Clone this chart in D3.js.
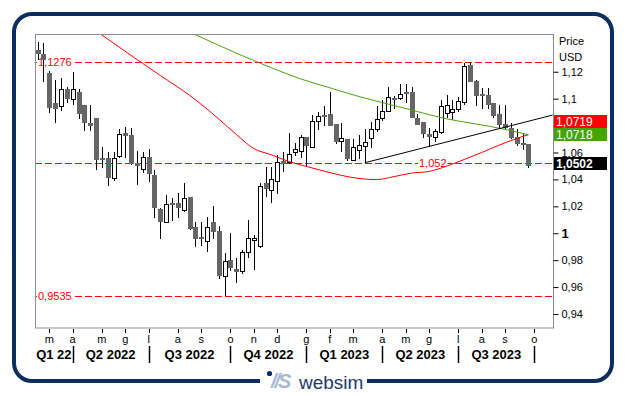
<!DOCTYPE html>
<html>
<head>
<meta charset="utf-8">
<script src="https://cdn.jsdelivr.net/npm/d3@7"></script>
<style>
  body { margin: 0; background: #fff; }
  svg text { font-family: "Liberation Sans", Arial, sans-serif; }
</style>
</head>
<body>
<div class="chart"></div>
<script>
// weekly candles, each one dated on the friday that closes the week
var firstWeek = "2022-02-18";
var opens  = [1.1362,1.1329,1.1193,1.0965,1.0948,1.1072,1.0995,1.1052,1.0953,1.0822,1.0859,1.0560,1.0557,1.0408,1.0577,1.0745,1.0730,1.0525,1.0475,1.0564,1.0433,1.0180,1.0086,1.0225,1.0222,1.0173,1.0267,1.0044,0.9975,0.9945,1.0081,1.0017,0.9685,0.9799,0.9735,0.9722,0.9863,0.9950,0.9908,1.0371,1.0322,1.0388,1.0537,1.0532,1.0601,1.0614,1.0713,1.0643,1.0837,1.0879,1.0886,1.0809,1.0685,1.0700,1.0544,1.0619,1.0651,1.0705,1.0772,1.0854,1.0911,1.1004,1.1002,1.1047,1.1047,1.0859,1.0824,1.0738,1.0718,1.0750,1.0891,1.0904,1.0924,1.0978,1.1250,1.1131,1.1035,1.1027,1.0965,1.0884,1.0809,1.0785,1.0718,1.0673,1.0663];
var highs  = [1.1423,1.1411,1.1205,1.1139,1.1156,1.1089,1.1196,1.1072,1.0955,1.0953,1.0860,1.0643,1.0606,1.0606,1.0775,1.0792,1.0780,1.0611,1.0606,1.0626,1.0470,1.0185,1.0284,1.0260,1.0297,1.0371,1.0272,1.0086,1.0081,1.0123,1.0203,1.0054,0.9851,0.9999,0.9814,0.9876,1.0099,0.9990,1.0371,1.0490,1.0490,1.0581,1.0601,1.0742,1.0671,1.0730,1.0716,1.0878,1.0898,1.0946,1.1047,1.0810,1.0817,1.0702,1.0700,1.0730,1.0775,1.0829,1.0946,1.0990,1.1089,1.1020,1.1106,1.1106,1.1089,1.0886,1.0826,1.0780,1.0775,1.0990,1.1027,1.0990,1.1015,1.1262,1.1276,1.1139,1.1077,1.1077,1.0967,1.0953,1.0953,1.0817,1.0775,1.0735,1.0665];
var lows   = [1.1287,1.1126,1.0896,1.0817,1.0908,1.0970,1.0953,1.0846,1.0762,1.0762,1.0470,1.0487,1.0354,1.0391,1.0557,1.0557,1.0507,1.0359,1.0445,1.0378,1.0116,0.9957,1.0081,1.0094,1.0111,1.0161,1.0024,0.9900,0.9908,0.9863,0.9955,0.9660,0.9535,0.9722,0.9628,0.9697,0.9814,0.9730,0.9888,1.0272,1.0222,1.0289,1.0458,1.0512,1.0577,1.0557,1.0490,1.0640,1.0767,1.0797,1.0799,1.0663,1.0606,1.0537,1.0537,1.0552,1.0522,1.0631,1.0755,1.0834,1.0911,1.0921,1.0990,1.0965,1.0854,1.0804,1.0710,1.0643,1.0676,1.0738,1.0854,1.0842,1.0899,1.0953,1.1121,1.0948,1.0923,1.0923,1.0859,1.0780,1.0775,1.0700,1.0651,1.0619,1.0487];
var closes = [1.1332,1.1287,1.0933,1.0923,1.1072,1.0995,1.1072,1.0884,1.0817,1.0799,1.0544,1.0554,1.0413,1.0562,1.0738,1.0725,1.0515,1.0502,1.0564,1.0438,1.0185,1.0086,1.0215,1.0218,1.0185,1.0260,1.0032,0.9957,0.9955,1.0044,1.0012,0.9685,0.9796,0.9740,0.9715,0.9858,0.9962,0.9962,1.0354,1.0329,1.0401,1.0532,1.0517,1.0589,1.0626,1.0713,1.0651,1.0837,1.0871,1.0867,1.0799,1.0676,1.0705,1.0552,1.0638,1.0656,1.0676,1.0775,1.0846,1.0908,1.1010,1.0998,1.1032,1.1032,1.0859,1.0804,1.0735,1.0713,1.0760,1.0946,1.0953,1.0924,1.0983,1.1245,1.1126,1.1022,1.1022,1.0953,1.0874,1.0804,1.0785,1.0710,1.0661,1.0661,1.0502];

// moving averages
var redMaDates  = ["2022-04-29","2022-05-06","2022-06-17","2022-07-15","2022-08-19","2022-09-23","2022-10-14","2022-11-04","2022-11-25","2022-12-16","2023-01-06","2023-01-27","2023-02-17","2023-03-10","2023-03-31","2023-04-21","2023-05-12","2023-06-02","2023-06-23","2023-07-14","2023-08-04","2023-08-25","2023-09-15","2023-09-29"];
var redMaValues = [1.1503,1.1473,1.1291,1.1172,1.1025,1.0849,1.0734,1.0629,1.0583,1.0533,1.0496,1.0462,1.0430,1.0407,1.0399,1.0421,1.0447,1.0459,1.0499,1.0548,1.0600,1.0655,1.0704,1.0733];
var greenMaDates  = ["2022-08-19","2022-09-16","2022-10-21","2022-11-25","2022-12-30","2023-02-03","2023-03-10","2023-04-14","2023-05-19","2023-06-23","2023-07-28","2023-09-01","2023-09-29"];
var greenMaValues = [1.1495,1.1416,1.1320,1.1230,1.1147,1.1081,1.1016,1.0960,1.0904,1.0850,1.0812,1.0772,1.0731];

var trendDates  = ["2023-03-17","2023-10-28"];
var trendValues = [1.0524,1.0878];

var levels      = [1.1276, 1.052, 0.9535];
var levelLabels = ["1,1276", "1,052", "0,9535"];

var lastRed = 1.0719, lastGreen = 1.0718, lastPrice = 1.0502;

// 1,08 sits under the value boxes, so only its tick is kept
var yTicks = [0.94,0.96,0.98,1,1.02,1.04,1.06,1.08,1.1,1.12];
var yHiddenLabels = [1.08];

var monthTickDates = ["2022-03-04","2022-04-01","2022-05-06","2022-06-03","2022-07-01","2022-08-05","2022-09-02","2022-10-07","2022-11-04","2022-12-02","2023-01-06","2023-02-03","2023-03-03","2023-04-07","2023-05-05","2023-06-02","2023-07-07","2023-08-04","2023-09-01","2023-10-06"];
var monthLabels = ["m","a","m","g","l","a","s","o","n","d","g","f","m","a","m","g","l","a","s","o"];
var quarterEnds   = ["2022-04-01","2022-07-01","2022-10-07","2023-01-06","2023-04-07","2023-07-07","2023-10-06"];
var quarterLabels = ["Q1 22","Q2 2022","Q3 2022","Q4 2022","Q1 2023","Q2 2023","Q3 2023"];

var pLeft = 35, pRight = 553, pTop = 35, pBottom = 328;
var navy = "#0c2d5e";

var parse = d3.timeParse("%Y-%m-%d");
var start = parse(firstWeek);
var candles = opens.map(function(o, i) {
  return { date: d3.timeDay.offset(start, 7 * i), open: o, high: highs[i], low: lows[i], close: closes[i] };
});

var x = d3.scaleTime()
  .domain([parse(monthTickDates[0]), parse(monthTickDates[monthTickDates.length - 1])])
  .range([49.3, 534.3]);
var y = d3.scaleLinear().domain([0.9296, 1.1473]).range([pBottom, pTop]);

var locale = d3.formatLocale({ decimal: ",", thousands: ".", grouping: [3], currency: ["", "€"] });
var fmt = locale.format("~g");

var svg = d3.select(".chart").append("svg")
  .attr("width", 627)
  .attr("height", 395);

svg.append("rect").attr("width", 627).attr("height", 395).attr("fill", "#fff");

// outer rounded frame, open at the bottom for the logo
var r = 18, fl = 14, ft = 14, fr = 612, fb = 381;
var frame = d3.path();
frame.moveTo(260, fb);
frame.lineTo(fl + r, fb);
frame.arcTo(fl, fb, fl, fb - r, r);
frame.lineTo(fl, ft + r);
frame.arcTo(fl, ft, fl + r, ft, r);
frame.lineTo(fr - r, ft);
frame.arcTo(fr, ft, fr, ft + r, r);
frame.lineTo(fr, fb - r);
frame.arcTo(fr, fb, fr - r, fb, r);
frame.lineTo(367, fb);
svg.append("path").attr("d", frame.toString())
  .attr("fill", "none").attr("stroke", navy).attr("stroke-width", 4);

svg.append("defs").append("clipPath").attr("id", "plotclip")
  .append("rect").attr("x", pLeft).attr("y", pTop).attr("width", pRight - pLeft).attr("height", pBottom - pTop);

var plot = svg.append("g").attr("clip-path", "url(#plotclip)");

// horizontal levels
plot.selectAll(".level").data(levels).enter().append("line")
  .attr("x1", pLeft).attr("x2", pRight)
  .attr("y1", function(d) { return Math.round(y(d)) + 0.5; })
  .attr("y2", function(d) { return Math.round(y(d)) + 0.5; })
  .attr("stroke", "#ff0000").attr("stroke-dasharray", "7,3");

var labelX = [38, 419, 38];
levels.forEach(function(v, i) {
  var t = plot.append("text")
    .attr("x", labelX[i]).attr("y", Math.round(y(v)) + 4)
    .attr("font-size", 11).attr("fill", "#ff0000")
    .text(levelLabels[i]);
  var bb = t.node().getBBox();
  plot.insert("rect", function() { return t.node(); })
    .attr("x", bb.x - 1).attr("y", bb.y).attr("width", bb.width + 2).attr("height", bb.height)
    .attr("fill", "#fff");
});

// candles
plot.selectAll(".wick").data(candles).enter().append("line")
  .attr("x1", function(d) { return Math.round(x(d.date)) + 0.5; })
  .attr("x2", function(d) { return Math.round(x(d.date)) + 0.5; })
  .attr("y1", function(d) { return Math.round(y(d.high)); })
  .attr("y2", function(d) { return Math.round(y(d.low)); })
  .attr("stroke", "#000");

plot.selectAll(".body").data(candles).enter().append("rect")
  .attr("x", function(d) {
    var cx = Math.round(x(d.date));
    return d.close >= d.open ? cx - 1.5 : cx - 2;
  })
  .attr("y", function(d) {
    var t = Math.round(y(Math.max(d.open, d.close)));
    return d.close >= d.open ? t + 0.5 : t;
  })
  .attr("width", function(d) { return d.close >= d.open ? 4 : 5; })
  .attr("height", function(d) {
    var h = Math.round(y(Math.min(d.open, d.close))) - Math.round(y(Math.max(d.open, d.close)));
    return Math.max(h, d.close >= d.open ? 1 : 2);
  })
  .attr("fill", function(d) { return d.close >= d.open ? "#fff" : "#666"; })
  .attr("stroke", function(d) { return d.close >= d.open ? "#000" : "none"; });

// moving averages and trend line
var line = d3.line()
  .x(function(d) { return x(d.date); })
  .y(function(d) { return y(d.v); })
  .curve(d3.curveMonotoneX);

function series(dates, values) {
  return dates.map(function(d, i) { return { date: parse(d), v: values[i] }; });
}

plot.append("path").attr("d", line(series(redMaDates, redMaValues)))
  .attr("fill", "none").attr("stroke", "#ff0000").attr("stroke-width", 1);
plot.append("path").attr("d", line(series(greenMaDates, greenMaValues)))
  .attr("fill", "none").attr("stroke", "#4ca20c").attr("stroke-width", 1);
plot.append("path").attr("d", d3.line()
    .x(function(d) { return x(d.date); })
    .y(function(d) { return y(d.v); })(series(trendDates, trendValues)))
  .attr("fill", "none").attr("stroke", "#000").attr("stroke-width", 1);

// plot border
svg.append("rect")
  .attr("x", pLeft + 0.5).attr("y", pTop - 0.5)
  .attr("width", pRight - pLeft).attr("height", pBottom - pTop + 0.5)
  .attr("fill", "none").attr("stroke", "#8c8c9a");

// right price axis
var yAxis = d3.axisRight(y).tickValues(yTicks).tickSize(5).tickPadding(3)
  .tickFormat(function(d) { return yHiddenLabels.indexOf(d) >= 0 ? "" : fmt(d); });
var ya = svg.append("g").attr("transform", "translate(" + (pRight + 0.5) + ",0)").call(yAxis);
ya.select(".domain").remove();
ya.selectAll("line").attr("stroke", "#000");
ya.selectAll("text")
  .attr("font-size", function(d) { return d === 1 ? 13 : 11; })
  .attr("font-weight", function(d) { return d === 1 ? "bold" : "normal"; })
  .attr("fill", "#000")
  .style("font-family", "'Liberation Sans', Arial, sans-serif");

svg.append("text").attr("x", 559).attr("y", 45).attr("font-size", 11).text("Price");
svg.append("text").attr("x", 559).attr("y", 61).attr("font-size", 11).text("USD");

// value boxes at the right edge
var boxes = [
  { v: lastRed, off: -13, fill: "#ff0000", bold: false },
  { v: lastGreen, off: 0, fill: "#44a500", bold: false },
  { v: lastPrice, off: 0, fill: "#000", bold: true }
];
boxes.forEach(function(b) {
  var cy = y(b.v) - 2 + b.off;
  svg.append("rect").attr("x", pRight + 1).attr("y", Math.round(cy - 6.5))
    .attr("width", 53).attr("height", 13).attr("fill", b.fill);
  svg.append("text").attr("x", pRight + 3).attr("y", Math.round(cy + 4.5))
    .attr("font-size", 12).attr("fill", "#fff")
    .attr("font-weight", b.bold ? "bold" : "normal")
    .text(fmt(b.v));
});

// month ticks
var months = monthTickDates.map(function(d, i) { return { date: parse(d), label: monthLabels[i] }; });
svg.selectAll(".mtick").data(months).enter().append("line")
  .attr("x1", function(d) { return Math.round(x(d.date)) + 0.5; })
  .attr("x2", function(d) { return Math.round(x(d.date)) + 0.5; })
  .attr("y1", pBottom + 1).attr("y2", pBottom + 5)
  .attr("stroke", "#000");
svg.selectAll(".mlabel").data(months).enter().append("text")
  .attr("x", function(d) { return x(d.date); })
  .attr("y", 343)
  .attr("text-anchor", "middle")
  .attr("font-size", 11)
  .text(function(d) { return d.label; });

// quarters
var qEnds = quarterEnds.map(function(d) { return x(parse(d)); });
svg.selectAll(".qsep").data(qEnds).enter().append("line")
  .attr("x1", function(d) { return Math.round(d) + 0.5; })
  .attr("x2", function(d) { return Math.round(d) + 0.5; })
  .attr("y1", 346).attr("y2", 363)
  .attr("stroke", "#000").attr("stroke-width", 1.5);
svg.selectAll(".qlabel").data(quarterLabels).enter().append("text")
  .attr("x", function(d, i) { return ((i === 0 ? pLeft : qEnds[i - 1]) + qEnds[i]) / 2; })
  .attr("y", 359)
  .attr("text-anchor", "middle")
  .attr("font-size", 13)
  .attr("font-weight", "bold")
  .text(function(d) { return d; });

// logo in the gap of the frame
svg.append("circle").attr("cx", 269.5).attr("cy", 373.5).attr("r", 2.6).attr("fill", navy);
svg.append("text").attr("x", 271).attr("y", 388)
  .attr("font-size", 20).attr("font-weight", "bold").attr("font-style", "italic")
  .attr("fill", "#a9b8cf").attr("letter-spacing", -2)
  .text("//S");
svg.append("text").attr("x", 299).attr("y", 389)
  .attr("font-size", 19).attr("fill", "#1e3a6a")
  .text("websim");
</script>
</body>
</html>
